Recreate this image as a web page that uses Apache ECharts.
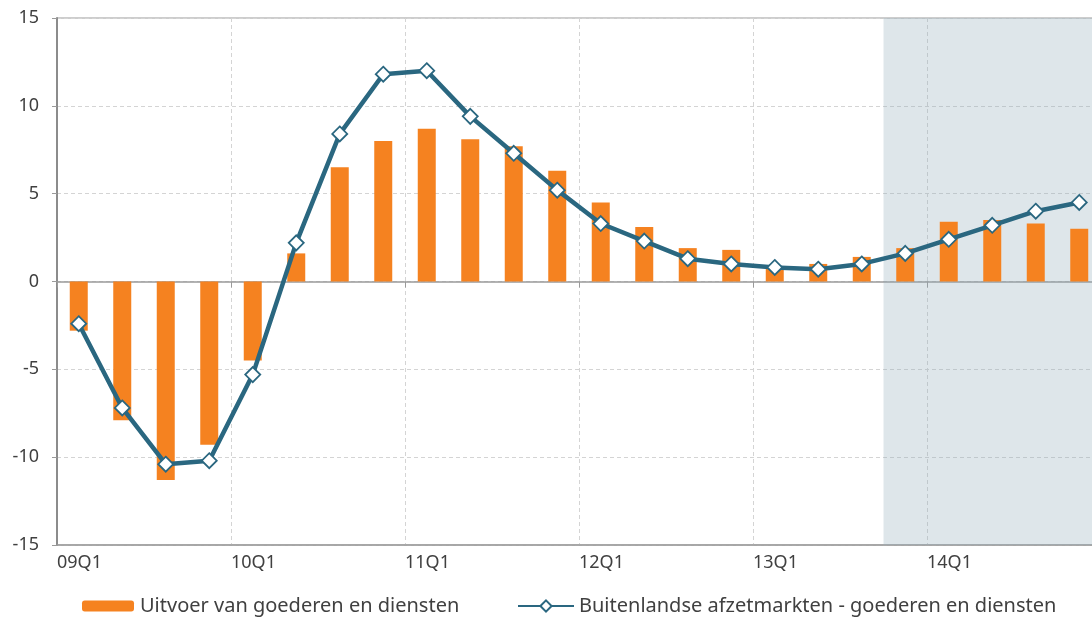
<!DOCTYPE html>
<html><head><meta charset="utf-8">
<script src="https://cdn.jsdelivr.net/npm/echarts@6/dist/echarts.min.js"></script>
<style>html,body{margin:0;padding:0;background:#fff}#c{width:1092px;height:617px}</style>
</head><body><div id="c"></div>
<script>
const categories = ['09Q1','09Q2','09Q3','09Q4','10Q1','10Q2','10Q3','10Q4','11Q1','11Q2','11Q3','11Q4','12Q1','12Q2','12Q3','12Q4','13Q1','13Q2','13Q3','13Q4','14Q1','14Q2','14Q3','14Q4'];
const yearLabels = ['09Q1','10Q1','11Q1','12Q1','13Q1','14Q1'];
const exportValues = [-2.8,-7.9,-11.3,-9.3,-4.5,1.6,6.5,8.0,8.7,8.1,7.7,6.3,4.5,3.1,1.9,1.8,0.8,1.0,1.4,1.9,3.4,3.5,3.3,3.0];
const marketValues = [-2.4,-7.2,-10.4,-10.2,-5.3,2.2,8.4,11.8,12.0,9.4,7.3,5.2,3.3,2.3,1.3,1.0,0.8,0.7,1.0,1.6,2.4,3.2,4.0,4.5];
const forecastStart = 19, forecastEnd = 24;
const seriesNames = ['Uitvoer van goederen en diensten','Buitenlandse afzetmarkten - goederen en diensten'];

const FONT = 'Noto Sans';
const chart = echarts.init(document.getElementById('c'), null, {renderer:'canvas'});
chart.setOption({
  animation:false,
  textStyle:{fontFamily:FONT},
  grid:{left:57, top:18, width:1044, height:527, show:true, borderColor:'#9a9a9a', borderWidth:1, containLabel:false, outerBoundsMode:'none'},
  legend:[
    {data:[seriesNames[0]], left:77, top:591, itemWidth:52, itemHeight:11, itemGap:0, textStyle:{fontFamily:FONT, fontSize:20, color:'#404040', padding:[0,0,0,1]}},
    {data:[seriesNames[1]], left:512, top:591, itemWidth:56, itemHeight:14, textStyle:{fontFamily:FONT, fontSize:20, color:'#404040'}}
  ],
  xAxis:[
    {type:'category', data:categories, position:'bottom', boundaryGap:true,
     axisLine:{onZero:true, lineStyle:{color:'#9a9a9a', width:1.5}},
     axisTick:{show:true, length:6, interval:(i)=>i%4===0, lineStyle:{color:'#9a9a9a'}},
     axisLabel:{show:false}, splitLine:{show:false}},
    {type:'value', min:0, max:24, interval:4, position:'bottom',
     axisLine:{onZero:false, show:true, lineStyle:{color:'#9a9a9a', width:1.5}},
     axisTick:{show:false},
     axisLabel:{align:'left', margin:9, fontSize:18, color:'#404040', fontFamily:FONT,
       formatter:(v)=> (yearLabels[v/4] || '')},
     splitLine:{show:true, lineStyle:{type:[4,3], color:'#d4d4d4'}}}
  ],
  yAxis:{type:'value', min:-15, max:15, interval:5,
    axisLine:{show:true, onZero:false, lineStyle:{color:'#8c8c8c', width:2}},
    axisTick:{show:true, length:5, lineStyle:{color:'#9a9a9a'}},
    axisLabel:{margin:18, fontSize:18, color:'#404040', fontFamily:FONT},
    splitLine:{show:true, lineStyle:{type:[4,3], color:'#d4d4d4'}}},
  series:[
    {type:'line', xAxisIndex:1, yAxisIndex:0, data:[], silent:true, symbol:'none',
     markArea:{silent:true, itemStyle:{color:'rgba(145,172,185,0.3)'}, data:[[{xAxis:forecastStart},{xAxis:forecastEnd}]]}, z:1},
    {name:seriesNames[0], type:'bar', xAxisIndex:0, data:exportValues, barWidth:18,
     itemStyle:{color:'#f58220'}, z:2},
    {name:seriesNames[1], type:'line', xAxisIndex:0, data:marketValues,
     lineStyle:{color:'#2a6780', width:4.5}, itemStyle:{color:'#ffffff', borderColor:'#2a6780', borderWidth:1.8},
     symbol:'diamond', symbolSize:15, showAllSymbol:true, z:3}
  ]
});
</script></body></html>
